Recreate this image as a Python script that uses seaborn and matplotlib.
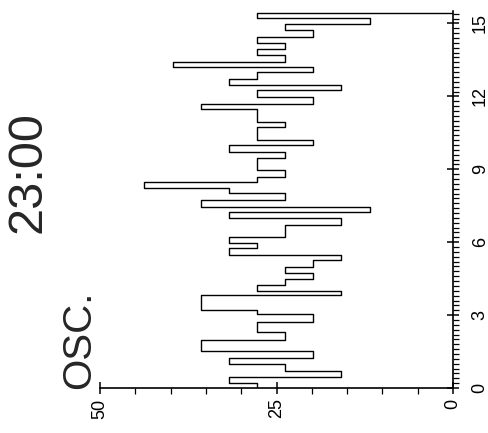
import numpy as np
import pandas as pd
import matplotlib
matplotlib.use('Agg')
import matplotlib.pyplot as plt
import seaborn as sns
from matplotlib.ticker import MultipleLocator

# step boundaries (time) and the level held between them
t_edges = [0, 0.20, 0.45, 0.71, 0.98, 1.22, 1.52, 1.98, 2.32, 2.73, 3.03, 3.20,
           3.83, 3.99, 4.24, 4.47, 4.75, 4.99, 5.27, 5.47, 5.75, 5.95, 6.23,
           6.71, 6.98, 7.26, 7.46, 7.74, 8.01, 8.22, 8.49, 8.70, 8.97, 9.45,
           9.72, 10.00, 10.21, 10.75, 10.96, 11.50, 11.70, 11.99, 12.26, 12.47,
           12.72, 13.02, 13.22, 13.43, 13.70, 13.94, 14.18, 14.46, 14.73,
           14.98, 15.21, 15.44]
levels = [27.7, 31.7, 15.8, 23.8, 31.7, 19.8, 35.7, 23.8, 27.7, 19.8,
          27.7, 35.7, 15.8, 27.7, 23.8, 19.8, 23.8, 19.8, 15.8, 31.7,
          27.7, 31.7, 23.8, 15.8, 31.7, 11.8, 35.7, 23.8, 31.7, 43.8,
          27.7, 23.8, 27.7, 23.8, 31.7, 19.8, 27.7, 23.8, 27.7, 35.7,
          19.8, 27.7, 15.8, 31.7, 27.7, 19.8, 39.6, 23.8, 27.7, 23.8,
          27.7, 19.8, 23.8, 11.8, 27.7]
end_level = 0

time_ticks = [0, 3, 6, 9, 12, 15]
value_ticks = [50, 25, 0]
title_time = '23:00'
title_label = 'OSC.'

# expand into a step path (value on the horizontal axis, time upward)
xs, ys = [], []
for i, v in enumerate(levels):
    xs += [v, v]
    ys += [t_edges[i], t_edges[i + 1]]
xs.append(end_level)
ys.append(t_edges[-1])
df = pd.DataFrame({'value': xs, 'time': ys})

sns.set_theme(style="ticks")
plt.rcParams['font.family'] = ['Liberation Sans', 'DejaVu Sans']

fig = plt.figure(figsize=(4.89, 4.33), dpi=100)
ax = fig.add_axes([100 / 489, 1 - 388 / 433, 353 / 489, 376.7 / 433])

sns.lineplot(data=df, x='value', y='time', sort=False, estimator=None,
             color='black', linewidth=1.0, ax=ax)

ax.set_xlim(50, 0)
ax.set_ylim(0, 15.5)
ax.yaxis.tick_right()
ax.spines[['left', 'top']].set_visible(False)
for s in ['bottom', 'right']:
    ax.spines[s].set_linewidth(1.2)
    ax.spines[s].set_color('black')

ax.set_xticks(value_ticks)
ax.set_xticklabels([str(v) for v in value_ticks])
ax.xaxis.set_minor_locator(MultipleLocator(5))
ax.set_yticks(time_ticks)
ax.set_yticklabels([str(t) for t in time_ticks])
ax.yaxis.set_minor_locator(MultipleLocator(0.2))
ax.set_xlabel('')
ax.set_ylabel('')

ax.tick_params(which='major', direction='inout', length=9, width=1.1,
               color='black', labelsize=13, labelcolor='black')
ax.tick_params(which='minor', direction='out', length=4, width=0.9, color='black')
ax.tick_params(axis='x', which='major', pad=3, labelrotation=90)
ax.tick_params(axis='y', which='major', pad=9, labelrotation=90,
               left=False, right=True)
ax.tick_params(axis='y', which='minor', left=False, right=True)
for lab in ax.get_yticklabels():
    lab.set_va('center')

fig.text(28 / 489, 1 - 172 / 433, title_time, rotation=90, fontsize=35,
         ha='center', va='center')
fig.text(79 / 489, 1 - 340 / 433, title_label, rotation=90, fontsize=29,
         ha='center', va='center')

fig.savefig('out.png', dpi=100)
